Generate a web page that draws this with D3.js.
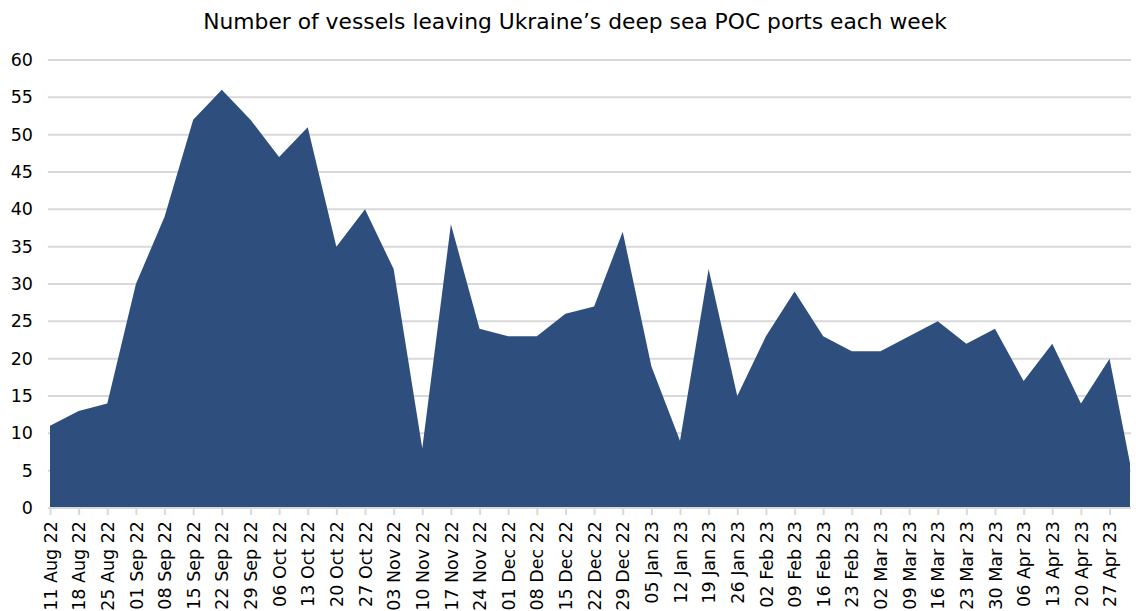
<!DOCTYPE html>
<html>
<head>
<meta charset="utf-8">
<script src="https://cdn.jsdelivr.net/npm/d3@7"></script>
<style>
  body { margin: 0; background: #fff; }
  text { font-family: "DejaVu Sans", sans-serif; fill: #000; }
</style>
</head>
<body>
<div id="chart"></div>
<script>
// weekly dates (last one is a partial week)
var weeks = ["2022-08-11","2022-08-18","2022-08-25","2022-09-01","2022-09-08","2022-09-15",
  "2022-09-22","2022-09-29","2022-10-06","2022-10-13","2022-10-20","2022-10-27","2022-11-03",
  "2022-11-10","2022-11-17","2022-11-24","2022-12-01","2022-12-08","2022-12-15","2022-12-22",
  "2022-12-29","2023-01-05","2023-01-12","2023-01-19","2023-01-26","2023-02-02","2023-02-09",
  "2023-02-16","2023-02-23","2023-03-02","2023-03-09","2023-03-16","2023-03-23","2023-03-30",
  "2023-04-06","2023-04-13","2023-04-20","2023-04-27","2023-05-02"];

var vessels = [11,13,14,30,39,52,56,52,47,51,35,40,32,8,38,24,23,23,26,27,37,19,9,32,15,23,29,
  23,21,21,23,25,22,24,17,22,14,20,6];

var yTicks = [0,5,10,15,20,25,30,35,40,45,50,55,60];

var title = "Number of vessels leaving Ukraine\u2019s deep sea POC ports each week";

var parse = d3.timeParse("%Y-%m-%d");
var data = weeks.map(function(w, i) { return {date: parse(w), value: vessels[i]}; });

var margin = {top: 60, right: 6, bottom: 103, left: 50},
    width = 1136 - margin.left - margin.right,
    height = 611 - margin.top - margin.bottom;

var svg = d3.select("#chart").append("svg")
    .attr("width", 1136)
    .attr("height", 611);

svg.append("text")
    .attr("x", 575)
    .attr("y", 29)
    .attr("text-anchor", "middle")
    .style("font-size", "21.8px")
    .text(title);

var g = svg.append("g")
    .attr("transform", "translate(" + margin.left + "," + margin.top + ")");

var x = d3.scaleTime()
    .domain(d3.extent(data, function(d) { return d.date; }))
    .range([0, width]);

var y = d3.scaleLinear()
    .domain([0, 60])
    .range([height, 0]);

// gridlines
g.selectAll(".grid")
    .data(yTicks.filter(function(t) { return t > 0; }))
  .enter().append("line")
    .attr("x1", -2)
    .attr("x2", width + 1)
    .attr("y1", function(d) { return y(d); })
    .attr("y2", function(d) { return y(d); })
    .attr("stroke", "#d9d9d9")
    .attr("stroke-width", 2);

// area
var area = d3.area()
    .x(function(d) { return x(d.date); })
    .y0(height)
    .y1(function(d) { return y(d.value); });

g.append("path")
    .datum(data)
    .attr("fill", "#2e4f7e")
    .attr("d", area);

// y axis
var yAxis = g.append("g")
    .call(d3.axisLeft(y).tickValues(yTicks).tickSize(0).tickPadding(17));
yAxis.select(".domain").remove();
yAxis.selectAll("text")
    .style("font-size", "17.5px")
    .style("font-family", "DejaVu Sans, sans-serif");

// x axis, ticks on labelled weeks only
var tickDates = data.slice(0, data.length - 1).map(function(d) { return d.date; });
var xAxis = g.append("g")
    .attr("transform", "translate(0," + height + ")")
    .call(d3.axisBottom(x)
      .tickValues(tickDates)
      .tickFormat(d3.timeFormat("%d %b %y"))
      .tickSizeOuter(0)
      .tickSize(7));
xAxis.select(".domain")
    .attr("stroke", "#d9d9d9")
    .attr("stroke-width", 2)
    .attr("d", "M-2,0H" + (width + 1));
xAxis.selectAll(".tick line")
    .attr("stroke", "#d9d9d9")
    .attr("stroke-width", 2);
xAxis.selectAll("text")
    .attr("transform", "rotate(-90)")
    .attr("text-anchor", "end")
    .attr("x", -13)
    .attr("y", 0)
    .attr("dy", "0.35em")
    .style("font-size", "17.5px")
    .style("font-family", "DejaVu Sans, sans-serif");
</script>
</body>
</html>
